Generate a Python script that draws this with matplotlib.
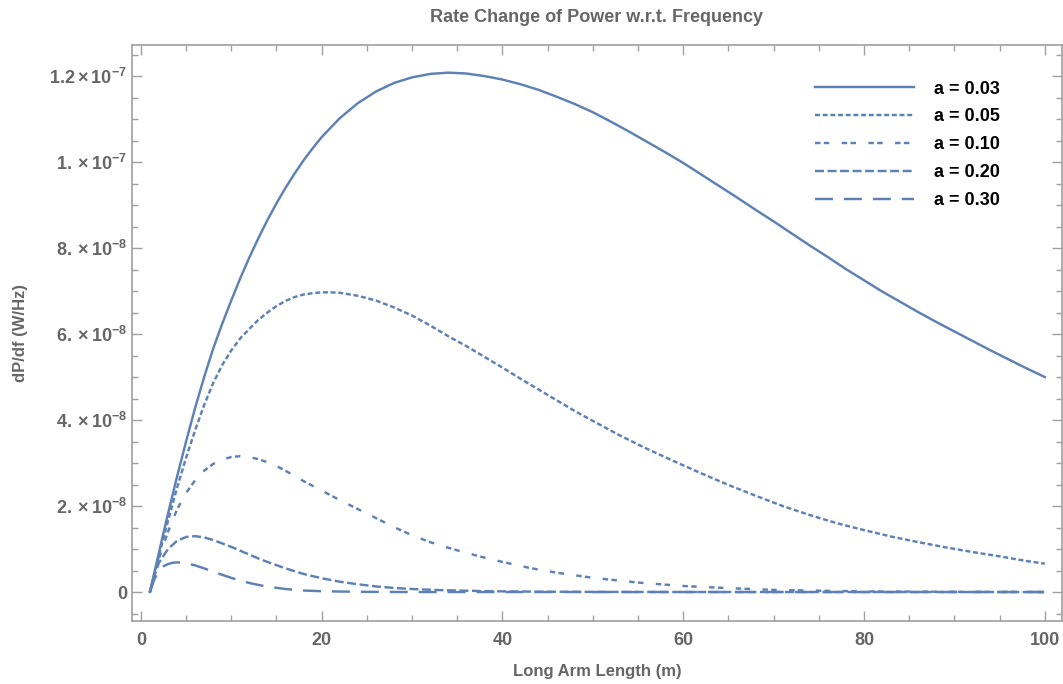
import numpy as np
import matplotlib
matplotlib.use("Agg")
import matplotlib.pyplot as plt
from matplotlib.ticker import FixedLocator, MultipleLocator

# dP/df curves vs long arm length, values in units of 1e-8 W/Hz
x_003 = [1, 2, 3, 4, 5, 6, 7, 8, 9, 10, 11, 12, 13, 14, 15, 16, 17, 18, 19, 20,
         22, 24, 26, 28, 30, 32, 34, 36, 38, 40, 42, 44, 46, 48, 50, 52, 54, 56,
         58, 60, 62, 64, 66, 68, 70, 72, 74, 76, 78, 80, 82, 84, 86, 88, 90, 92,
         94, 96, 98, 100]
y_003 = [0, 0.92, 1.82, 2.68, 3.50, 4.28, 5.00, 5.66, 6.24, 6.78, 7.30, 7.78,
         8.23, 8.65, 9.04, 9.40, 9.73, 10.04, 10.32, 10.58, 11.02, 11.37, 11.64,
         11.84, 11.97, 12.05, 12.08, 12.06, 12.00, 11.92, 11.81, 11.68, 11.52,
         11.35, 11.16, 10.94, 10.71, 10.47, 10.23, 9.98, 9.71, 9.44, 9.17, 8.89,
         8.62, 8.34, 8.06, 7.79, 7.51, 7.25, 6.99, 6.75, 6.51, 6.28, 6.06, 5.84,
         5.62, 5.41, 5.20, 5.00]

x_005 = [1, 2, 3, 4, 5, 6, 7, 8, 9, 10, 11, 12, 13, 14, 15, 16, 17, 18, 19, 20,
         21, 22, 24, 26, 28, 30, 32, 34, 36, 38, 40, 42, 44, 46, 48, 50, 53, 56,
         59, 62, 65, 68, 71, 74, 77, 80, 83, 86, 89, 92, 95, 98, 100]
y_005 = [0, 0.85, 1.65, 2.42, 3.12, 3.76, 4.35, 4.86, 5.28, 5.62, 5.90, 6.12,
         6.33, 6.50, 6.65, 6.77, 6.86, 6.92, 6.95, 6.97, 6.97, 6.96, 6.89, 6.78,
         6.62, 6.43, 6.20, 5.95, 5.72, 5.47, 5.22, 4.96, 4.71, 4.46, 4.21, 3.98,
         3.64, 3.33, 3.04, 2.76, 2.49, 2.24, 2.00, 1.79, 1.60, 1.44, 1.29, 1.16,
         1.04, 0.93, 0.83, 0.72, 0.66]

x_010 = [1, 2, 3, 4, 5, 6, 7, 8, 9, 10, 11, 12, 13, 14, 15, 16, 17, 18, 20, 22,
         24, 26, 28, 30, 32, 34, 36, 38, 40, 43, 46, 50, 55, 60, 65, 70, 75, 80,
         90, 100]
y_010 = [0, 0.78, 1.40, 1.92, 2.30, 2.60, 2.82, 2.98, 3.08, 3.14, 3.16, 3.14,
         3.09, 3.02, 2.93, 2.82, 2.70, 2.58, 2.36, 2.14, 1.93, 1.72, 1.51, 1.32,
         1.16, 1.03, 0.91, 0.80, 0.70, 0.56, 0.45, 0.33, 0.22, 0.14, 0.09, 0.05,
         0.03, 0.015, 0.005, 0]

x_020 = [1, 1.5, 2, 3, 4, 5, 6, 7, 8, 9, 10, 11, 12, 13, 14, 16, 18, 20, 22, 24,
         26, 28, 30, 33, 36, 40, 45, 50, 60, 100]
y_020 = [0, 0.38, 0.68, 1.00, 1.19, 1.28, 1.30, 1.27, 1.21, 1.13, 1.05, 0.96,
         0.87, 0.78, 0.70, 0.55, 0.42, 0.32, 0.24, 0.18, 0.13, 0.095, 0.07, 0.045,
         0.03, 0.015, 0.007, 0.003, 0, 0]

x_030 = [1, 1.5, 2, 2.5, 3, 3.5, 4, 5, 6, 7, 8, 9, 10, 11, 12, 13, 14, 16, 18,
         20, 24, 30, 100]
y_030 = [0, 0.30, 0.50, 0.60, 0.65, 0.68, 0.69, 0.67, 0.62, 0.55, 0.47, 0.40,
         0.33, 0.27, 0.21, 0.165, 0.125, 0.07, 0.035, 0.018, 0.005, 0, 0]

labels = ["a = 0.03", "a = 0.05", "a = 0.10", "a = 0.20", "a = 0.30"]
scale = 1e-8

ytick_vals = [0, 2, 4, 6, 8, 10, 12]
ytick_text = ["0", r"$2.\times10^{-8}$", r"$4.\times10^{-8}$",
              r"$6.\times10^{-8}$", r"$8.\times10^{-8}$",
              r"$1.\times10^{-7}$", r"$1.2\times10^{-7}$"]

plt.rcParams['font.family'] = "Liberation Sans"
plt.rcParams['font.weight'] = "bold"
plt.rcParams['mathtext.fontset'] = "custom"
plt.rcParams['mathtext.rm'] = "Liberation Sans:bold"
plt.rcParams['mathtext.it'] = "Liberation Sans:bold"
plt.rcParams['mathtext.bf'] = "Liberation Sans:bold"

blue = "#5e81b5"
gray = "#666666"
frame = "#a0a0a0"

fig = plt.figure(figsize=(10.63, 6.84), dpi=100)
ax = fig.add_axes([132 / 1063, 1 - 621 / 684, (1062 - 132) / 1063, (621 - 44.7) / 684])

lw = 1.75
series = [(x_003, y_003, "-"),
          (x_005, y_005, (0, (2.06, 1.1))),
          (x_010, y_010, (0, (2.26, 1.36, 2.26, 5.1))),
          (x_020, y_020, (0, (3.7, 1.45))),
          (x_030, y_030, (0, (7.4, 4.5)))]
for (xs, ys, ls), lab in zip(series, labels):
    ax.plot(xs, np.array(ys) * scale, color=blue, lw=lw, linestyle=ls,
            dash_capstyle="butt", label=lab)

ax.set_xlim(-0.98, 101.9)
ax.set_ylim(-0.674 * scale, 12.73 * scale)

ax.xaxis.set_major_locator(MultipleLocator(20))
ax.xaxis.set_minor_locator(MultipleLocator(5))
ax.yaxis.set_major_locator(FixedLocator([v * scale for v in ytick_vals]))
ax.yaxis.set_minor_locator(MultipleLocator(0.5 * scale))
ax.set_yticklabels(ytick_text)

ax.tick_params(which="both", direction="in", top=True, right=True,
               color=frame, labelcolor=gray, labelsize=13, width=1)
ax.tick_params(which="major", length=7)
ax.tick_params(which="minor", length=4)
ax.tick_params(axis="x", pad=8)
for sp in ax.spines.values():
    sp.set_color(frame)
    sp.set_linewidth(1.2)

ax.set_xlabel("Long Arm Length (m)", fontsize=12, fontweight="bold", color=gray, labelpad=11)
ax.set_ylabel("dP/df (W/Hz)", fontsize=12, fontweight="bold", color=gray, labelpad=15)
ax.set_title("Rate Change of Power w.r.t. Frequency", fontsize=13, fontweight="bold",
             color=gray, pad=16)

leg = ax.legend(loc="upper right", frameon=False, fontsize=13, handlelength=5.5,
                handletextpad=1.1, labelspacing=0.6, bbox_to_anchor=(0.951, 0.966))
for t in leg.get_texts():
    t.set_color("black")

plt.savefig("out.png", dpi=100)
